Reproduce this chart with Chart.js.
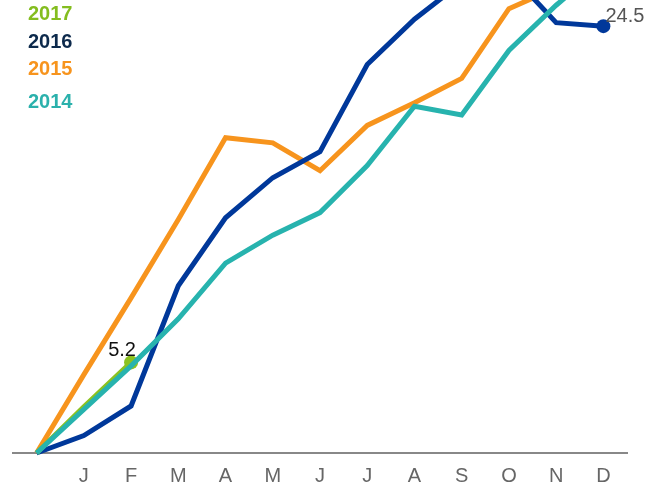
<!DOCTYPE html>
<html>
<head>
<meta charset="utf-8">
<script src="https://cdn.jsdelivr.net/npm/chart.js@4/dist/chart.umd.min.js"></script>
<style>
  body { margin: 0; background: #fff; }
  #wrap { width: 665px; height: 487px; position: relative; overflow: hidden; }
</style>
</head>
<body>
<div id="wrap"><canvas id="ytdChart"></canvas></div>
<script>
// months, first slot is the zero start point
const months = ['', 'J', 'F', 'M', 'A', 'M', 'J', 'J', 'A', 'S', 'O', 'N', 'D'];

const values2017 = [0, 2.65, 5.2];
const values2016 = [0, 1.0, 2.7, 9.6, 13.5, 15.8, 17.3, 22.3, 24.9, 27.0, 27.6, 24.7, 24.5];
const values2015 = [0, 4.5, 8.9, 13.4, 18.1, 17.8, 16.2, 18.8, 20.1, 21.5, 25.5, 26.7, 27.5];
const values2014 = [0, 2.5, 5.0, 7.7, 10.9, 12.5, 13.8, 16.5, 19.9, 19.4, 23.1, 25.7, 28.0];

const FONT = "'Liberation Sans', Arial, Helvetica, sans-serif";

// legend rows on the top left
const legendItems = [
    { text: '2017', color: '#84bd1f', y: 20 },
    { text: '2016', color: '#0d2a4c', y: 48 },
    { text: '2015', color: '#f7941d', y: 75 },
    { text: '2014', color: '#2bb1ac', y: 108 }
];

// value labels next to the last point of a series
const pointLabels = [
    { dataset: 1, index: 2, text: '5.2', color: '#111', dx: -9, dy: -6, align: 'center' },
    { dataset: 2, index: 12, text: '24.5', color: '#555', dx: 2, dy: -4, align: 'left' }
];

const textPlugin = {
    id: 'textPlugin',
    afterDraw(chart) {
        const ctx = chart.ctx;
        ctx.save();
        ctx.textBaseline = 'alphabetic';

        ctx.font = 'bold 20px ' + FONT;
        ctx.textAlign = 'left';
        legendItems.forEach(item => {
            ctx.fillStyle = item.color;
            ctx.fillText(item.text, 28, item.y);
        });

        ctx.font = '20px ' + FONT;
        pointLabels.forEach(lbl => {
            const pt = chart.getDatasetMeta(lbl.dataset).data[lbl.index];
            if (!pt) return;
            ctx.fillStyle = lbl.color;
            ctx.textAlign = lbl.align;
            ctx.fillText(lbl.text, pt.x + lbl.dx, pt.y + lbl.dy);
        });
        ctx.restore();
    }
};

function lastPointOnly(data, radius) {
    return data.map((v, i) => i === data.length - 1 ? radius : 0);
}

function series(label, data, color, radius) {
    return {
        label: label,
        data: data,
        borderColor: color,
        backgroundColor: color,
        borderWidth: 5,
        tension: 0,
        clip: false,
        pointRadius: lastPointOnly(data, radius),
        pointHoverRadius: 0,
        pointBorderWidth: 0,
        fill: false
    };
}

new Chart(document.getElementById('ytdChart'), {
    type: 'line',
    data: {
        labels: months,
        // first dataset is drawn on top
        datasets: [
            series('2014', values2014, '#27b3ae', 0),
            series('2017', values2017, '#8cc21f', 7),
            series('2016', values2016, '#00389a', 7),
            series('2015', values2015, '#f7941d', 0)
        ]
    },
    options: {
        responsive: true,
        maintainAspectRatio: false,
        animation: false,
        layout: {
            autoPadding: false,
            padding: { left: 13, right: 38, top: 0, bottom: -12 }
        },
        plugins: {
            legend: { display: false },
            tooltip: { enabled: false }
        },
        scales: {
            x: {
                offset: true,
                grid: { display: false, drawTicks: false },
                border: { display: true, color: '#888', width: 2 },
                ticks: {
                    color: '#666',
                    padding: 11,
                    maxRotation: 0,
                    autoSkip: false,
                    font: { size: 20, family: FONT }
                }
            },
            y: {
                display: false,
                min: 0,
                max: 26
            }
        }
    },
    plugins: [textPlugin]
});
</script>
</body>
</html>
